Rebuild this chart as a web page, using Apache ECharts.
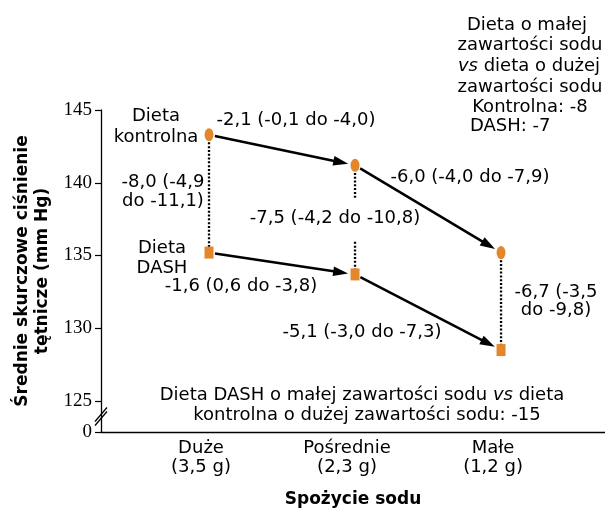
<!DOCTYPE html>
<html><head><meta charset="utf-8">
<script src="https://cdn.jsdelivr.net/npm/echarts@6/dist/echarts.min.js"></script>
<style>html,body{margin:0;padding:0;background:#fff}#c{width:605px;height:509px}</style>
</head><body><div id="c"></div>
<script>
// ---- data ----
const categories = ['Duże\n(3,5 g)', 'Pośrednie\n(2,3 g)', 'Małe\n(1,2 g)'];
const xPositions = [1, 2, 3];
const controlValues = [143.3, 141.2, 135.2];
const dashValues = [135.2, 133.7, 128.5];
const yTickValues = [125, 130, 135, 140, 145];
const yBrokenMin = 122.87;   // shown as "0" below the axis break
const yBrokenLabel = '0';

const SANS = 'DejaVu Sans';
const ORANGE = '#E3872B';
const FS = 18;

function arrowItem(params, api) {
  const p0 = api.coord([api.value(0), api.value(1)]);
  const p1 = api.coord([api.value(2), api.value(3)]);
  const dx = p1[0] - p0[0], dy = p1[1] - p0[1];
  const len = Math.hypot(dx, dy);
  const ux = dx / len, uy = dy / len;
  const startGap = 6, endGap = 7, headLen = 15, headW = 4.8;
  const s = [p0[0] + ux * startGap, p0[1] + uy * startGap];
  const tip = [p1[0] - ux * endGap, p1[1] - uy * endGap];
  const base = [tip[0] - ux * headLen, tip[1] - uy * headLen];
  const nx = -uy, ny = ux;
  return {type: 'group', children: [
    {type: 'line', shape: {x1: s[0], y1: s[1], x2: base[0] + ux * 2, y2: base[1] + uy * 2},
     style: {stroke: '#000', lineWidth: 2.5}},
    {type: 'polygon', shape: {points: [tip, [base[0] + nx * headW, base[1] + ny * headW], [base[0] - nx * headW, base[1] - ny * headW]]},
     style: {fill: '#000'}}
  ]};
}

function dottedItem(params, api) {
  const top = api.coord([api.value(0), api.value(1)]);
  const bot = api.coord([api.value(0), api.value(2)]);
  const st = {stroke: '#000', lineWidth: 2.3, lineDash: [2, 1.8]};
  if (params.dataIndex === 1) {
    const mid = (top[1] + bot[1]) / 2, half = 22;
    return {type: 'group', children: [
      {type: 'line', shape: {x1: top[0], y1: top[1], x2: top[0], y2: mid - half}, style: st},
      {type: 'line', shape: {x1: bot[0], y1: mid + half, x2: bot[0], y2: bot[1]}, style: st}
    ]};
  }
  return {type: 'line', shape: {x1: top[0], y1: top[1], x2: bot[0], y2: bot[1]}, style: st};
}

const arrowData = [];
[controlValues, dashValues].forEach(vals => {
  for (let i = 0; i < vals.length - 1; i++) arrowData.push([xPositions[i], vals[i], xPositions[i + 1], vals[i + 1]]);
});
const dottedData = xPositions.map((x, i) => [x, controlValues[i], dashValues[i]]);

function txt(x, y, text, opts) {
  return Object.assign({type: 'text', x: x, y: y, z: 10, style: Object.assign({
    text: text, fill: '#000', fontFamily: SANS, fontSize: FS,
    textAlign: 'center', textVerticalAlign: 'middle', lineHeight: 20
  }, opts || {})});
}
const richI = {i: {fontStyle: 'italic', fontFamily: SANS, fontSize: FS, fill: '#000'}, n: {fontFamily: SANS, fontSize: FS, fill: '#000'}};

const chart = echarts.init(document.getElementById('c'), null, {renderer: 'canvas'});
const option = {
  animation: false,
  backgroundColor: '#fff',
  grid: {left: 101, right: 0, top: 110, bottom: 77, containLabel: false, outerBoundsMode: 'none'},
  xAxis: {
    type: 'value', min: 0.2603, max: 3.712,
    splitLine: {show: false}, axisTick: {show: false},
    axisLine: {lineStyle: {color: '#000', width: 1.3}},
    axisLabel: {customValues: xPositions, formatter: v => categories[Math.round(v) - 1],
      color: '#000', fontFamily: SANS, fontSize: FS, lineHeight: 19, margin: 7, padding: [0, 16, 0, 0]},
    name: 'Spożycie sodu', nameLocation: 'middle', nameGap: 59,
    nameTextStyle: {color: '#000', fontFamily: SANS, fontSize: 17, fontWeight: 'bold'}
  },
  yAxis: {
    type: 'value', min: yBrokenMin, max: 145,
    splitLine: {show: false},
    axisLine: {show: true, lineStyle: {color: '#000', width: 1.3}},
    axisTick: {show: true, length: 6, customValues: [yBrokenMin].concat(yTickValues), lineStyle: {color: '#000', width: 1.2}},
    axisLabel: {customValues: [yBrokenMin].concat(yTickValues), formatter: v => (v < yTickValues[0] ? yBrokenLabel : String(Math.round(v))),
      color: '#000', fontFamily: 'Liberation Serif', fontSize: 19, margin: 9},
    name: 'Średnie skurczowe ciśnienie\ntętnicze (mm Hg)', nameLocation: 'middle', nameRotate: 90, nameGap: 48,
    nameTextStyle: {color: '#000', fontFamily: SANS, fontSize: 17, fontWeight: 'bold', lineHeight: 20}
  },
  series: [
    {type: 'custom', renderItem: dottedItem, data: dottedData, z: 2, silent: true, clip: false},
    {type: 'custom', renderItem: arrowItem, data: arrowData, z: 3, silent: true, clip: false},
    {type: 'scatter', data: xPositions.map((x, i) => [x, controlValues[i]]), symbol: 'circle', symbolSize: [9, 13],
     itemStyle: {color: ORANGE, opacity: 1}, z: 5},
    {type: 'scatter', data: xPositions.map((x, i) => [x, dashValues[i]]), symbol: 'rect', symbolSize: [9, 12],
     itemStyle: {color: ORANGE, opacity: 1}, z: 5}
  ],
  graphic: [
    txt(156, 126.5, 'Dieta\nkontrolna', {lineHeight: 21}),
    txt(296, 120, '-2,1 (-0,1 do -4,0)'),
    txt(163, 191.5, '-8,0 (-4,9\ndo -11,1)', {lineHeight: 19}),
    txt(470, 177, '-6,0 (-4,0 do -7,9)'),
    txt(335, 218, '-7,5 (-4,2 do -10,8)'),
    txt(162, 258, 'Dieta\nDASH', {lineHeight: 20}),
    txt(241, 286, '-1,6 (0,6 do -3,8)'),
    txt(362, 332, '-5,1 (-3,0 do -7,3)'),
    txt(556, 301, '-6,7 (-3,5\ndo -9,8)', {lineHeight: 18}),
    txt(527, 25, 'Dieta o małej'),
    txt(530, 45, 'zawartości sodu'),
    txt(529, 66, '{i|vs}{n| dieta o dużej}', {rich: richI}),
    txt(530, 87, 'zawartości sodu'),
    txt(530, 107, 'Kontrolna: -8'),
    txt(470, 126, 'DASH: -7', {textAlign: 'left'}),
    txt(362, 395, '{n|Dieta DASH o małej zawartości sodu }{i|vs}{n| dieta}', {rich: richI}),
    txt(367, 415, 'kontrolna o dużej zawartości sodu: -15')
  ]
};
chart.setOption(option);

// axis-break slashes on the y axis, between the lowest tick and the "0" baseline
const pA = chart.convertToPixel({gridIndex: 0}, [0.2603, (yBrokenMin + yTickValues[0]) / 2]);
chart.setOption({graphic: option.graphic.concat([
  {type: 'line', z: 11, shape: {x1: pA[0] - 6, y1: pA[1] + 5, x2: pA[0] + 6, y2: pA[1] - 9}, style: {stroke: '#000', lineWidth: 1.3}},
  {type: 'line', z: 11, shape: {x1: pA[0] - 6, y1: pA[1] + 9, x2: pA[0] + 6, y2: pA[1] - 5}, style: {stroke: '#000', lineWidth: 1.3}}
])});
</script></body></html>
